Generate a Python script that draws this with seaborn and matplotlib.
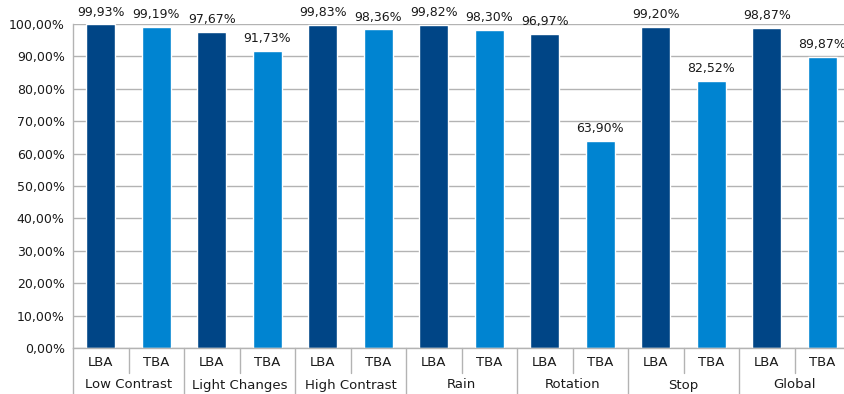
import matplotlib
matplotlib.use("Agg")
import matplotlib.pyplot as plt
import matplotlib.transforms as mtransforms
from matplotlib.ticker import FuncFormatter, MultipleLocator
import seaborn as sns
import pandas as pd

groups = ["Low Contrast", "Light Changes", "High Contrast", "Rain", "Rotation", "Stop", "Global"]
methods = ["LBA", "TBA"]
lba = [99.93, 97.67, 99.83, 99.82, 96.97, 99.20, 98.87]
tba = [99.19, 91.73, 98.36, 98.30, 63.90, 82.52, 89.87]

colors = {"LBA": "#004586", "TBA": "#0084d1"}

rows = []
for g, a, b in zip(groups, lba, tba):
    rows.append({"slot": f"{g} LBA", "group": g, "method": "LBA", "value": a})
    rows.append({"slot": f"{g} TBA", "group": g, "method": "TBA", "value": b})
df = pd.DataFrame(rows)
order = list(df["slot"])

sns.set_style("white")
plt.rcParams["font.family"] = ["DejaVu Sans"]

W, H = 844, 394
fig = plt.figure(figsize=(W / 100, H / 100), dpi=100)
left, right, top, bottom = 73, 850, 24, 348
ax = fig.add_axes([left / W, (H - bottom) / H, (right - left) / W, (bottom - top) / H])

sns.barplot(data=df, x="slot", y="value", hue="method", order=order,
            hue_order=methods, palette=colors, dodge=False, width=0.52,
            saturation=1, legend=False, ax=ax)

ax.set_ylim(0, 100)
ax.set_xlim(-0.5, len(order) - 0.5)
ax.yaxis.set_major_locator(MultipleLocator(10))
ax.yaxis.set_major_formatter(FuncFormatter(lambda v, p: f"{v:.2f}%".replace(".", ",")))
ax.grid(axis="y", color="#b3b3b3", linewidth=1.0)
ax.set_axisbelow(True)
ax.set_xlabel("")
ax.set_ylabel("")

for s in ["top", "right"]:
    ax.spines[s].set_visible(False)
for s in ["left", "bottom"]:
    ax.spines[s].set_color("#b3b3b3")
    ax.spines[s].set_linewidth(1.0)

ax.tick_params(axis="y", length=4, color="#b3b3b3", labelsize=9, labelcolor="#1a1a1a", pad=2)
ax.set_xticks(range(len(order)))
ax.set_xticklabels([m for m in df["method"]])
ax.tick_params(axis="x", length=0, labelsize=9.5, labelcolor="#1a1a1a", pad=6)

# value labels above each bar
for i, v in enumerate(df["value"]):
    ax.annotate(f"{v:.2f}%".replace(".", ","), (i, v), xytext=(0, 4),
                textcoords="offset points", ha="center", va="bottom",
                fontsize=9, color="#1a1a1a")

# two-level category axis: separators and group names
trans = mtransforms.blended_transform_factory(ax.transData, ax.transAxes)
px = 1.0 / (bottom - top)
for k in range(len(order) + 1):
    x = k - 0.5
    depth = (394 - bottom) if k % 2 == 0 else (373 - bottom)
    ax.plot([x, x], [0, -depth * px], transform=trans, color="#b3b3b3",
            linewidth=1.0, clip_on=False)
for gi, g in enumerate(groups):
    ax.text(2 * gi + 0.5, -(385 - bottom) * px, g, transform=trans,
            ha="center", va="center", fontsize=9.5, color="#1a1a1a")

fig.savefig("out.png", dpi=100)
